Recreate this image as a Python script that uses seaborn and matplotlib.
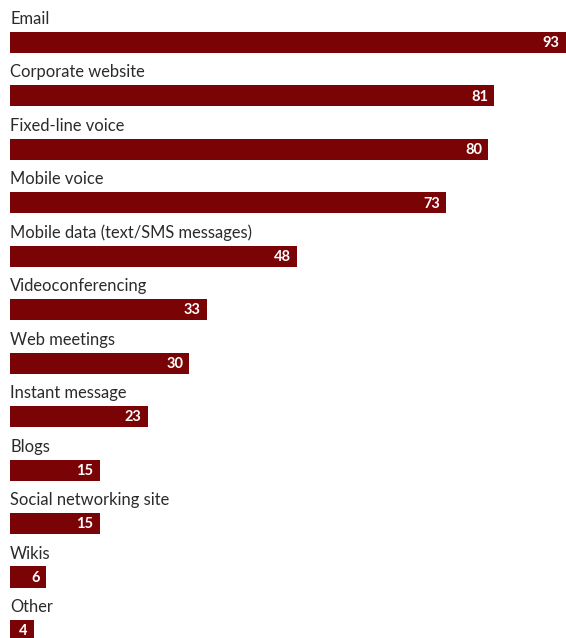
import matplotlib
matplotlib.use("Agg")
import matplotlib.pyplot as plt
import seaborn as sns
import pandas as pd

channels = [
    "Email",
    "Corporate website",
    "Fixed-line voice",
    "Mobile voice",
    "Mobile data (text/SMS messages)",
    "Videoconferencing",
    "Web meetings",
    "Instant message",
    "Blogs",
    "Social networking site",
    "Wikis",
    "Other",
]
shares = [93, 81, 80, 73, 48, 33, 30, 23, 15, 15, 6, 4]

df = pd.DataFrame({"channel": channels, "share": shares})

sns.set_theme(style="white")
plt.rcParams["font.family"] = ["Lato", "DejaVu Sans"]

W, H = 566, 638
fig = plt.figure(figsize=(W / 100, H / 100), dpi=100)
ax = fig.add_axes([0, 0, 1, 1])

bar_color = "#7a0306"
sns.barplot(data=df, y="channel", x="share", orient="h", color=bar_color,
            width=0.393, saturation=1, ax=ax, linewidth=0)

# map pixels: x=10px -> 0, x=566px -> 93; row centres 53.45px apart
px_per_unit = (566 - 10) / 93
ax.set_xlim(-10 / px_per_unit, 93)
row = 53.45
ax.set_ylim((H - 42.5) / row, -42.5 / row)

for i, (name, val) in enumerate(zip(channels, shares)):
    ax.text(0, i - 0.346, name, ha="left", va="baseline",
            fontsize=11.9, color="#2b2b2b")
    ax.annotate(str(val), xy=(val, i), xytext=(-4.5, -0.5),
                textcoords="offset points", ha="right", va="center",
                fontsize=10.5, fontweight="bold", color="white")

ax.set_axis_off()
fig.savefig("out.png", dpi=100)
